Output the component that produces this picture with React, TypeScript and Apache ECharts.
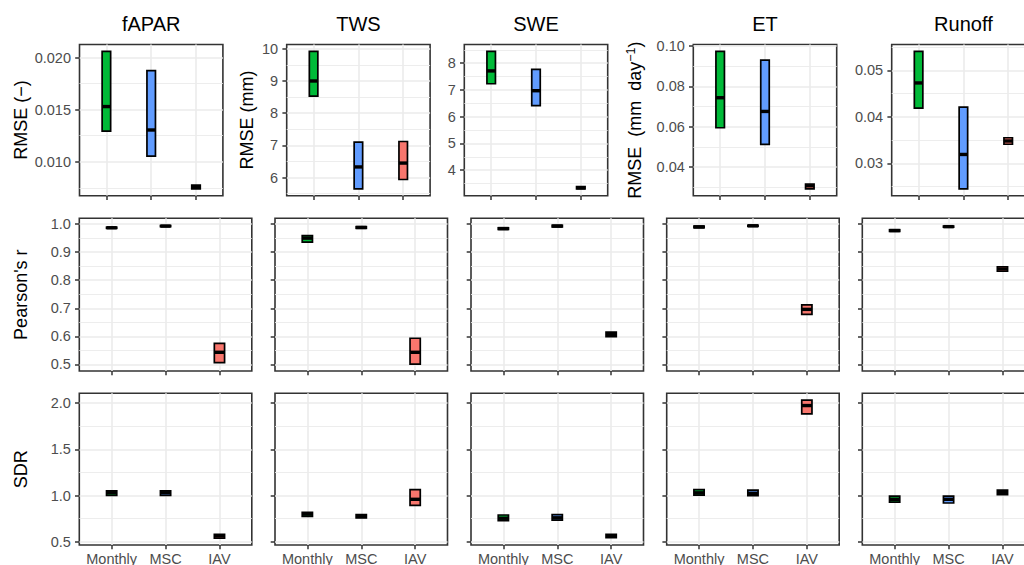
import React, { useEffect, useRef } from "react";
import * as echarts from "echarts";

// ---------- data ----------
const variables = ["fAPAR", "TWS", "SWE", "ET", "Runoff"];
const categories = ["Monthly", "MSC", "IAV"];
const categoryColors = ["#00BA38", "#619CFF", "#F8766D"];

// each entry: [lower hinge, median, upper hinge] for Monthly, MSC, IAV
const rmseFapar = [[0.01295, 0.0153, 0.0206], [0.01055, 0.01305, 0.01875], [0.0074, 0.0076, 0.00775]];
const rmseTws = [[8.53, 9.0, 9.92], [5.65, 6.33, 7.1], [5.94, 6.45, 7.12]];
const rmseSwe = [[7.23, 7.71, 8.44], [6.41, 6.97, 7.77], [3.305, 3.345, 3.385]];
const rmseEt = [[0.0595, 0.0744, 0.0974], [0.0513, 0.0676, 0.0931], [0.0292, 0.0307, 0.0316]];
const rmseRunoff = [[0.0419, 0.0473, 0.0541], [0.0245, 0.0319, 0.0421], [0.0341, 0.0348, 0.0355]];

const pearsonFapar = [[0.985, 0.987, 0.989], [0.991, 0.993, 0.995], [0.506, 0.543, 0.575]];
const pearsonTws = [[0.936, 0.95, 0.959], [0.985, 0.988, 0.991], [0.501, 0.543, 0.593]];
const pearsonSwe = [[0.981, 0.984, 0.987], [0.99, 0.993, 0.996], [0.599, 0.607, 0.615]];
const pearsonEt = [[0.987, 0.99, 0.993], [0.992, 0.994, 0.996], [0.678, 0.696, 0.712]];
const pearsonRunoff = [[0.974, 0.977, 0.98], [0.989, 0.991, 0.993], [0.832, 0.84, 0.848]];

const sdrFapar = [[1.003, 1.031, 1.052], [1.003, 1.031, 1.052], [0.54, 0.565, 0.58]];
const sdrTws = [[0.775, 0.8, 0.82], [0.76, 0.775, 0.795], [0.895, 0.96, 1.065]];
const sdrSwe = [[0.73, 0.755, 0.79], [0.735, 0.76, 0.795], [0.545, 0.56, 0.58]];
const sdrEt = [[1.005, 1.03, 1.065], [1.0, 1.025, 1.06], [1.885, 1.975, 2.033]];
const sdrRunoff = [[0.93, 0.96, 0.995], [0.92, 0.96, 0.995], [1.01, 1.035, 1.06]];

const rmseTicks = [
  [0.01, 0.015, 0.02],
  [6, 7, 8, 9, 10],
  [4, 5, 6, 7, 8],
  [0.04, 0.06, 0.08, 0.1],
  [0.03, 0.04, 0.05],
];
const rmseDecimals = [3, 0, 0, 2, 2];
const pearsonTicks = [0.5, 0.6, 0.7, 0.8, 0.9, 1.0];
const sdrTicks = [0.5, 1.0, 1.5, 2.0];

const rowLabels = ["RMSE (−)", "RMSE (mm)", "", "ET_UNIT", ""];

// ---------- layout ----------
const FONT = "'Liberation Sans', Arial, Helvetica, sans-serif";
const row1Lefts = [79.5, 286.7, 464.3, 693.3, 891.7];
const row1Width = 143.4;
const rowLefts = [79.3, 275, 471, 666.7, 862.3];
const rowWidth = 172.5;
const rowTops = [44.5, 218.3, 393.3];
const rowHeights = [151.2, 152.7, 151.7];
const row1LabelX = [20.5, 246.5, 0, 635, 0];

const GRID_COLOR = "#EBEBEB";
const INK = "#333333";
const TICK_TEXT = "#4D4D4D";

function paddedRange(sets: number[][][]) {
  let lo = Infinity;
  let hi = -Infinity;
  sets.forEach((s) =>
    s.forEach((b) => {
      lo = Math.min(lo, b[0]);
      hi = Math.max(hi, b[2]);
    })
  );
  const pad = (hi - lo) * 0.05;
  return [lo - pad, hi + pad];
}

function minorValues(ticks: number[], range: number[]) {
  const step = ticks[1] - ticks[0];
  const out: number[] = [];
  for (let i = -1; i < ticks.length; i++) {
    const v = ticks[0] + step * (i + 0.5);
    if (v > range[0] && v < range[1]) out.push(+v.toFixed(10));
  }
  return out;
}

function buildOption() {
  const rmse = [rmseFapar, rmseTws, rmseSwe, rmseEt, rmseRunoff];
  const pearson = [pearsonFapar, pearsonTws, pearsonSwe, pearsonEt, pearsonRunoff];
  const sdr = [sdrFapar, sdrTws, sdrSwe, sdrEt, sdrRunoff];
  const pearsonRange = paddedRange(pearson);
  const sdrRange = paddedRange(sdr);

  const grids: any[] = [];
  const xAxes: any[] = [];
  const yAxes: any[] = [];
  const series: any[] = [];

  for (let r = 0; r < 3; r++) {
    for (let c = 0; c < 5; c++) {
      const idx = r * 5 + c;
      const data = r === 0 ? rmse[c] : r === 1 ? pearson[c] : sdr[c];
      const range = r === 0 ? paddedRange([rmse[c]]) : r === 1 ? pearsonRange : sdrRange;
      const ticks = r === 0 ? rmseTicks[c] : r === 1 ? pearsonTicks : sdrTicks;
      const dec = r === 0 ? rmseDecimals[c] : 1;
      const showYLabels = r === 0 || c === 0;

      grids.push({
        left: r === 0 ? row1Lefts[c] : rowLefts[c],
        top: rowTops[r],
        width: r === 0 ? row1Width : rowWidth,
        height: rowHeights[r],
        show: true,
        borderColor: INK,
        borderWidth: 1.6,
        backgroundColor: "transparent",
        containLabel: false,
        outerBoundsMode: "none",
      });

      xAxes.push({
        type: "value",
        gridIndex: idx,
        min: 0.4,
        max: 3.6,
        axisLine: { show: false },
        axisTick: {
          show: true,
          customValues: [1, 2, 3],
          length: 4.3,
          lineStyle: { color: INK, width: 1.5 },
        },
        axisLabel: {
          show: r === 2,
          customValues: [1, 2, 3],
          formatter: (v: number) => categories[Math.round(v) - 1],
          color: TICK_TEXT,
          fontSize: 14.5,
          fontFamily: FONT,
          margin: 6,
        },
        splitLine: { show: true, lineStyle: { color: GRID_COLOR, width: 1.6 } },
      });

      yAxes.push({
        type: "value",
        gridIndex: idx,
        min: range[0],
        max: range[1],
        axisLine: { show: false },
        axisTick: {
          show: true,
          customValues: ticks,
          length: 4.3,
          lineStyle: { color: INK, width: 1.5 },
        },
        axisLabel: {
          show: showYLabels,
          customValues: ticks,
          formatter: (v: number) => v.toFixed(dec),
          color: TICK_TEXT,
          fontSize: 14.5,
          fontFamily: FONT,
          margin: 8.5,
        },
        splitLine: { show: true, lineStyle: { color: GRID_COLOR, width: 1.6 } },
      });
      yAxes.push({
        type: "value",
        gridIndex: idx,
        min: range[0],
        max: range[1],
        axisLine: { show: false },
        axisTick: { show: false, customValues: minorValues(ticks, range) },
        axisLabel: { show: false },
        splitLine: { show: true, lineStyle: { color: GRID_COLOR, width: 0.9 } },
      });

      series.push({
        type: "custom",
        coordinateSystem: "cartesian2d",
        xAxisIndex: idx,
        yAxisIndex: idx * 2,
        encode: { x: 0, y: [1, 2, 3] },
        data: data.map((b, k) => [k + 1, b[0], b[1], b[2]]),
        renderItem: (params: any, api: any) => {
          const x = api.value(0);
          const lo = api.coord([x, api.value(1)]);
          const med = api.coord([x, api.value(2)]);
          const hi = api.coord([x, api.value(3)]);
          const band = api.size([1, 0])[0];
          const w = band * 0.19;
          const fill = categoryColors[params.dataIndex];
          return {
            type: "group",
            children: [
              {
                type: "rect",
                shape: { x: lo[0] - w / 2, y: hi[1], width: w, height: Math.max(lo[1] - hi[1], 0.5) },
                style: { fill, stroke: "#000000", lineWidth: 1.7 },
              },
              {
                type: "line",
                shape: { x1: lo[0] - w / 2, y1: med[1], x2: lo[0] + w / 2, y2: med[1] },
                style: { stroke: "#000000", lineWidth: 3.4 },
              },
            ],
          };
        },
      });
    }
  }

  const graphics: any[] = [];
  variables.forEach((v, c) => {
    graphics.push({
      type: "text",
      x: row1Lefts[c] + row1Width / 2,
      y: 24,
      style: {
        text: v,
        fontSize: 20,
        fontFamily: FONT,
        fill: "#000000",
        align: "center",
        verticalAlign: "middle",
        textAlign: "center",
        textVerticalAlign: "middle",
      },
    });
  });
  const midY = (r: number) => rowTops[r] + rowHeights[r] / 2;
  rowLabels.forEach((lab, c) => {
    if (!lab) return;
    const isEt = lab === "ET_UNIT";
    graphics.push({
      type: "text",
      x: row1LabelX[c],
      y: midY(0),
      rotation: Math.PI / 2,
      style: isEt
        ? {
            text: "{a|RMSE  (mm  day}{s|−1}{a|)}",
            rich: {
              a: { fontSize: 18, fontFamily: FONT, fill: "#000000", lineHeight: 22 },
              s: { fontSize: 12.5, fontFamily: FONT, fill: "#000000", verticalAlign: "top", lineHeight: 22 },
            },
            align: "center",
            verticalAlign: "middle",
            textAlign: "center",
            textVerticalAlign: "middle",
          }
        : {
            text: lab,
            fontSize: 18,
            fontFamily: FONT,
            fill: "#000000",
            align: "center",
            verticalAlign: "middle",
            textAlign: "center",
            textVerticalAlign: "middle",
          },
    });
  });
  [
    ["Pearson's r", 1],
    ["SDR", 2],
  ].forEach(([lab, r]) => {
    graphics.push({
      type: "text",
      x: 20.5,
      y: midY(r as number),
      rotation: Math.PI / 2,
      style: {
        text: lab,
        fontSize: 18,
        fontFamily: FONT,
        fill: "#000000",
        align: "center",
        verticalAlign: "middle",
        textAlign: "center",
        textVerticalAlign: "middle",
      },
    });
  });

  return {
    animation: false,
    backgroundColor: "#FFFFFF",
    grid: grids,
    xAxis: xAxes,
    yAxis: yAxes,
    series,
    graphic: graphics,
  };
}

export default function App() {
  const ref = useRef<HTMLDivElement>(null);
  useEffect(() => {
    if (!ref.current) return;
    const chart = echarts.init(ref.current, undefined, { renderer: "svg" });
    chart.setOption(buildOption() as any);
    return () => chart.dispose();
  }, []);
  return (
    <div
      ref={ref}
      style={{ position: "fixed", left: 0, top: 0, width: 1024, height: 565, background: "#fff" }}
    />
  );
}
